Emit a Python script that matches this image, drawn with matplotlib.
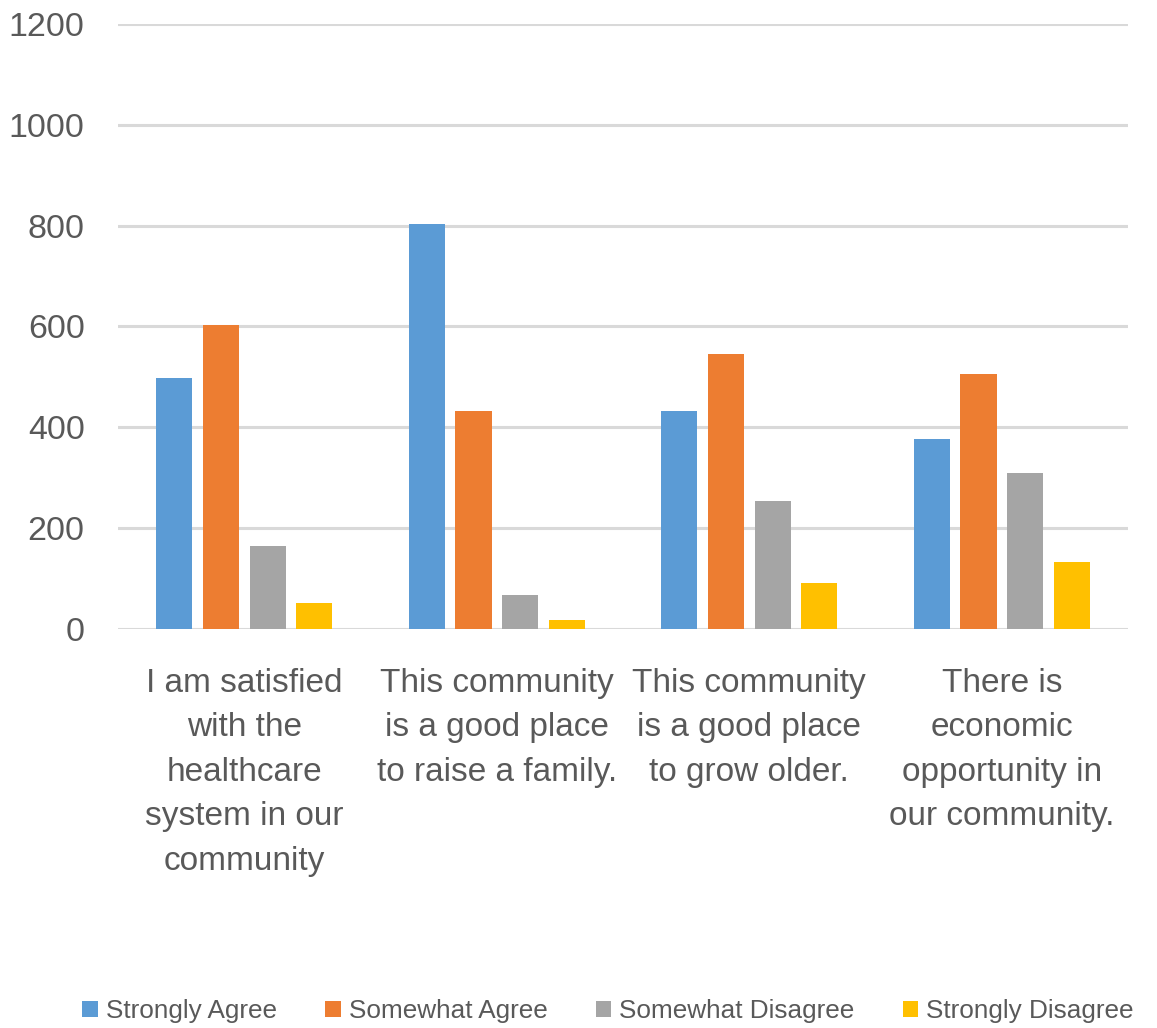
import numpy as np
import matplotlib.pyplot as plt

# data
categories = [
    "I am satisfied\nwith the\nhealthcare\nsystem in our\ncommunity",
    "This community\nis a good place\nto raise a family.",
    "This community\nis a good place\nto grow older.",
    "There is\neconomic\nopportunity in\nour community.",
]
series_names = ["Strongly Agree", "Somewhat Agree", "Somewhat Disagree", "Strongly Disagree"]
strongly_agree = [497, 804, 432, 376]
somewhat_agree = [602, 432, 545, 505]
somewhat_disagree = [164, 67, 253, 310]
strongly_disagree = [51, 18, 91, 132]
y_ticks = [0, 200, 400, 600, 800, 1000, 1200]

colors = ["#5B9BD5", "#ED7D31", "#A5A5A5", "#FFC000"]
text_color = "#595959"

plt.rcParams['font.family'] = ['Liberation Sans', 'DejaVu Sans']

fig = plt.figure(figsize=(11.57, 10.28), dpi=100)
ax = fig.add_axes([0.102, 0.3881, 0.873, 0.5886])

x = np.arange(len(categories))
pitch = 0.1846
width = 0.143
all_series = [strongly_agree, somewhat_agree, somewhat_disagree, strongly_disagree]
for i, (name, vals) in enumerate(zip(series_names, all_series)):
    offset = (i - 1.5) * pitch
    ax.bar(x + offset, vals, width, color=colors[i], label=name, zorder=3)

ax.set_xlim(-0.5, 3.5)
ax.set_ylim(0, 1200)
ax.set_yticks(y_ticks)
ax.set_yticklabels([str(t) for t in y_ticks])
ax.grid(axis='y', color="#D9D9D9", linewidth=2.2, zorder=0)
ax.set_axisbelow(True)
for s in ax.spines.values():
    s.set_visible(False)
ax.tick_params(axis='both', length=0, colors=text_color)
ax.tick_params(axis='y', labelsize=24.5, pad=24)
ax.set_xticks(x)
ax.set_xticklabels(categories, fontsize=24, linespacing=1.56, color=text_color)
ax.tick_params(axis='x', pad=28)

leg = fig.legend(loc='center', bbox_to_anchor=(0.5255, 0.0165), ncol=4, frameon=False,
                 fontsize=18.8, handlelength=0.6, handleheight=0.6, handletextpad=0.3,
                 columnspacing=1.85)
for t in leg.get_texts():
    t.set_color(text_color)

fig.savefig("out.png", dpi=100)
